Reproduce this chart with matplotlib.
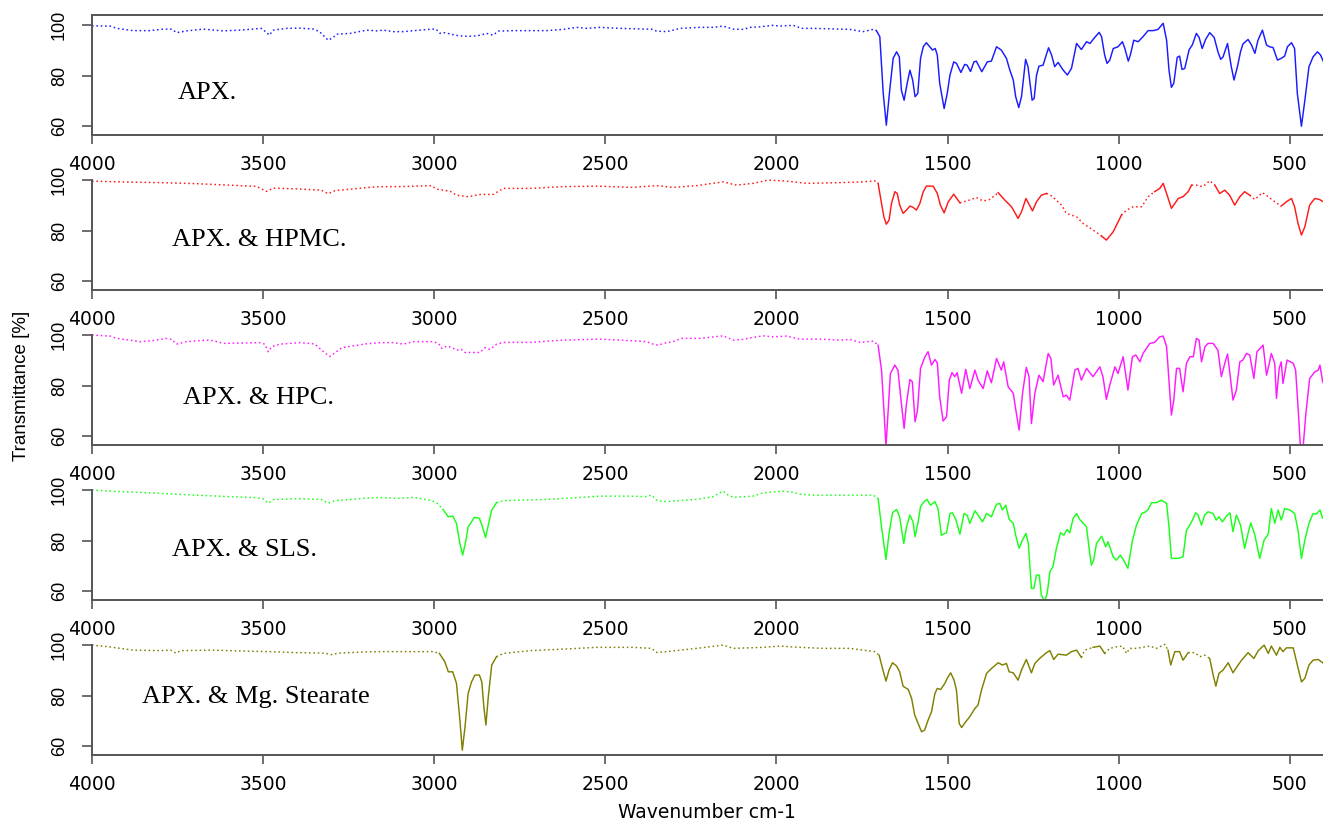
import numpy as np
import matplotlib
matplotlib.use("Agg")
import matplotlib.pyplot as plt

# ---------------- spectra (wavenumber cm-1, transmittance %) ----------------
apx_wn = [4000, 3947, 3928, 3880, 3831, 3792, 3767, 3753, 3723, 3675, 3617, 3568, 3505, 3493, 3482,
          3470, 3431, 3392, 3353, 3335, 3310, 3295, 3285, 3246, 3197, 3168, 3149, 3120, 3090, 3042,
          3008, 2995, 2983, 2969, 2939, 2915, 2886, 2866, 2847, 2828, 2813, 2769, 2672, 2623, 2584,
          2555, 2516, 2458, 2380, 2365, 2350, 2321, 2302, 2282, 2224, 2185, 2156, 2126, 2097, 2078,
          2049, 2010, 1990, 1951, 1927, 1893,
          1786, 1747, 1717, 1708, 1698, 1688, 1679, 1669, 1659, 1649, 1641, 1635, 1627, 1618, 1610,
          1602, 1595, 1587, 1579, 1571, 1562, 1552, 1544, 1536, 1530, 1523, 1510, 1501, 1493, 1482,
          1474, 1461, 1450, 1443, 1433, 1423, 1416, 1400, 1384, 1372, 1357, 1343, 1328, 1318, 1308,
          1301, 1292, 1284, 1272, 1265, 1253, 1247, 1240, 1233, 1221, 1205, 1196, 1187, 1177, 1162,
          1150, 1138, 1123, 1109, 1094, 1084, 1070, 1057, 1050, 1041, 1034, 1026, 1016, 1002, 989,
          982, 972, 966, 956, 943, 929, 914, 899, 885, 870, 860, 853, 846, 839, 829,
          822, 815, 807, 794, 785, 773, 765, 756, 746, 734, 721, 710, 702, 695, 682,
          671, 663, 653, 644, 637, 622, 612, 602, 593, 580, 568, 559, 549, 536, 525,
          515, 507, 495, 486, 478, 466, 456, 444, 432, 419, 410, 400]
apx_t = [99.7, 99.6, 98.7, 97.8, 97.8, 98.4, 98.4, 97.0, 97.7, 98.4, 97.7, 98.0, 98.7, 97.4, 96.0,
         98.0, 98.7, 98.8, 98.4, 97.4, 94.0, 95.1, 96.4, 96.7, 98.0, 97.7, 98.0, 97.4, 97.4, 98.0,
         98.4, 98.4, 96.7, 97.0, 96.0, 95.6, 95.6, 96.0, 96.7, 96.0, 97.6, 97.8, 97.8, 98.3, 99.1,
         98.7, 99.1, 98.7, 98.4, 98.4, 97.6, 97.4, 98.0, 98.7, 99.1, 99.1, 99.6, 98.4, 98.3, 99.1,
         99.3, 99.9, 99.6, 99.9, 98.7, 98.7,
         98.3, 97.4, 98.3, 97.8, 95.4, 72.9, 60.3, 74.2, 86.8, 89.4, 87.4, 74.2, 70.2, 76.9, 82.1,
         78.2, 71.6, 72.9, 86.8, 91.4, 93.0, 91.4, 90.1, 90.7, 88.1, 76.9, 66.9, 72.9, 80.2, 85.4,
         84.8, 81.2, 84.4, 84.1, 81.6, 85.4, 85.7, 81.5, 85.4, 85.7, 91.4, 90.1, 86.8, 82.1, 78.2,
         71.6, 67.3, 71.6, 86.4, 83.5, 70.2, 70.9, 80.2, 83.7, 84.1, 91.0, 88.1, 83.5, 85.2, 82.1,
         80.2, 82.8, 92.7, 90.3, 93.4, 92.7, 95.1, 97.1, 95.4, 88.1, 84.8, 86.1, 90.7, 91.4, 93.4,
         90.7, 85.7, 88.1, 94.0, 93.4, 95.4, 97.8, 97.8, 98.3, 100.7, 94.0, 82.1, 75.3, 76.9, 87.2,
         87.7, 82.4, 82.8, 90.3, 92.1, 96.7, 95.1, 90.7, 94.3, 97.0, 95.1, 89.4, 86.4, 87.4, 92.7,
         83.5, 78.2, 83.5, 89.4, 92.5, 94.3, 92.1, 88.8, 94.0, 98.0, 92.1, 91.4, 91.1, 86.1, 86.8,
         87.7, 91.4, 93.0, 90.7, 72.9, 59.9, 70.2, 83.5, 87.4, 89.4, 88.1, 85.0]

hpmc_wn = [4000, 3900, 3800, 3700, 3600, 3520, 3490, 3470, 3400, 3330, 3310, 3290, 3200, 3159, 3100,
           3008, 2993, 2954, 2935, 2901, 2866, 2828, 2798, 2720, 2623, 2526, 2419, 2350, 2302, 2233,
           2156, 2117, 2068, 2024, 1971, 1912, 1844,
           1786, 1747, 1713, 1703, 1693, 1686, 1679, 1671, 1664, 1654, 1647, 1640, 1630, 1620, 1610,
           1601, 1591, 1581, 1571, 1562, 1542, 1530, 1521, 1510, 1498, 1482, 1464, 1435, 1416, 1396,
           1377, 1352, 1333, 1313, 1294, 1284, 1271, 1252, 1240, 1226, 1211, 1196, 1167, 1153, 1123,
           1104, 1075, 1050, 1036, 1016, 992, 977, 958, 933, 914, 895, 880, 870, 860, 846,
           836, 826, 812, 797, 787, 773, 754, 734, 719, 705, 690, 676, 661, 646, 632,
           617, 602, 580, 563, 544, 525, 510, 495, 486, 476, 466, 456, 442, 427, 413, 400]
hpmc_t = [99.6, 99.2, 99.0, 98.6, 98.0, 97.5, 95.5, 96.8, 96.5, 96.0, 94.6, 95.8, 97.0, 97.4, 97.4,
          97.8, 96.4, 95.6, 94.0, 93.4, 94.3, 94.3, 96.7, 96.7, 97.4, 97.6, 97.1, 97.8, 97.1, 97.8,
          99.3, 98.0, 98.7, 100.0, 99.6, 98.7, 98.9,
          99.1, 99.3, 99.7, 98.7, 90.7, 85.4, 82.5, 84.1, 90.7, 95.4, 94.7, 90.1, 86.8, 88.1, 89.7,
          89.2, 88.1, 90.7, 95.4, 97.6, 97.6, 94.7, 90.1, 87.0, 91.4, 94.4, 91.0, 92.1, 93.1, 91.7,
          92.3, 95.0, 92.1, 89.4, 84.8, 87.4, 92.7, 87.8, 91.4, 94.0, 94.7, 93.7, 90.1, 86.8, 85.4,
          82.8, 80.2, 77.8, 76.2, 79.5, 86.1, 88.1, 89.4, 89.4, 93.4, 95.4, 96.7, 98.7, 94.7, 88.8,
          90.7, 92.7, 93.4, 95.4, 98.0, 98.0, 97.4, 99.7, 98.0, 94.7, 96.0, 94.0, 90.1, 93.4, 95.4,
          94.0, 92.3, 95.0, 93.4, 91.4, 89.7, 91.4, 92.7, 89.4, 82.8, 78.2, 81.5, 90.1, 92.7, 92.3, 91.2]

hpc_wn = [4000, 3947, 3928, 3860, 3821, 3782, 3767, 3753, 3723, 3665, 3646, 3617, 3510, 3495, 3485,
          3475, 3451, 3392, 3350, 3320, 3305, 3290, 3270, 3200, 3159, 3120, 3090, 3061, 3003, 2988,
          2978, 2964, 2949, 2935, 2920, 2910, 2886, 2866, 2852, 2837, 2818, 2798, 2720, 2623, 2516,
          2428, 2380, 2360, 2346, 2321, 2302, 2277, 2224, 2156, 2126, 2097, 2068, 2039, 2010, 1971,
          1932, 1873, 1815,
          1786, 1756, 1717, 1703, 1693, 1686, 1680, 1674, 1667, 1654, 1645, 1635, 1627, 1620, 1610,
          1603, 1595, 1588, 1579, 1566, 1557, 1547, 1537, 1530, 1523, 1513, 1503, 1495, 1487, 1479,
          1472, 1459, 1447, 1435, 1420, 1411, 1396, 1384, 1372, 1357, 1343, 1336, 1323, 1308, 1299,
          1291, 1281, 1270, 1262, 1255, 1245, 1233, 1221, 1206, 1198, 1190, 1177, 1162, 1153, 1143,
          1128, 1119, 1109, 1094, 1075, 1055, 1046, 1036, 1026, 1011, 1002, 987, 973, 960, 950,
          938, 929, 909, 895, 880, 870, 860, 846, 839, 831, 822, 812, 802, 792, 782,
          773, 765, 758, 748, 739, 724, 710, 700, 690, 682, 675, 666, 656, 646, 637,
          627, 617, 605, 596, 578, 568, 561, 554, 544, 539, 531, 525, 520, 508, 490,
          483, 476, 469, 461, 453, 442, 427, 417, 412, 404, 400]
hpc_t = [100.0, 99.6, 98.7, 97.4, 97.8, 98.7, 98.3, 96.4, 97.4, 98.0, 97.8, 96.7, 97.0, 96.4, 93.4,
         95.4, 96.4, 97.0, 96.5, 93.0, 91.5, 93.0, 95.0, 96.5, 97.0, 97.0, 96.4, 97.4, 97.4, 96.7,
         94.7, 95.6, 95.1, 94.0, 94.3, 93.1, 93.1, 93.1, 95.0, 94.3, 96.4, 97.1, 97.1, 98.0, 98.4,
         97.8, 97.4, 96.4, 96.0, 97.0, 97.4, 98.7, 98.7, 99.7, 98.0, 98.3, 99.1, 99.7, 99.3, 99.6,
         98.4, 98.4, 98.0,
         98.3, 97.1, 97.6, 96.0, 86.1, 70.2, 55.8, 68.9, 84.8, 88.1, 86.1, 72.9, 63.0, 72.9, 82.4,
         81.5, 65.6, 70.2, 86.8, 91.4, 93.4, 88.1, 90.3, 89.0, 75.5, 65.9, 67.6, 82.1, 85.1, 83.5,
         85.1, 76.9, 86.4, 78.8, 86.1, 82.1, 78.8, 85.8, 81.1, 90.7, 86.1, 89.4, 79.5, 76.9, 68.9,
         62.3, 76.9, 87.2, 83.5, 64.9, 76.9, 84.1, 81.5, 92.7, 90.7, 80.2, 84.1, 75.5, 76.2, 74.2,
         86.1, 86.8, 82.1, 86.8, 83.5, 87.4, 83.5, 74.5, 80.2, 87.4, 84.8, 91.4, 78.2, 91.4, 92.1,
         89.4, 92.7, 96.7, 97.1, 99.3, 99.6, 95.4, 68.3, 74.2, 86.8, 86.8, 77.5, 88.8, 91.4, 91.4,
         98.7, 98.0, 89.4, 95.4, 96.7, 96.7, 94.0, 83.5, 88.8, 92.5, 84.8, 74.2, 78.2, 89.4, 90.1,
         92.7, 92.1, 82.8, 93.4, 96.0, 84.1, 88.1, 92.7, 88.8, 74.9, 86.8, 89.4, 80.8, 90.1, 88.8,
         86.1, 71.6, 55.8, 55.8, 68.9, 82.8, 85.4, 86.1, 88.1, 81.5, 80.5]

sls_wn = [4000, 3900, 3800, 3700, 3600, 3520, 3500, 3485, 3470, 3400, 3330, 3310, 3290, 3200, 3159,
          3110, 3061, 3012, 2993, 2974, 2959, 2946, 2935, 2925, 2917, 2907, 2901, 2891, 2883, 2868,
          2859, 2850, 2842, 2832, 2818, 2798, 2672, 2574, 2516, 2428, 2380, 2365, 2350, 2331, 2233,
          2185, 2165, 2156, 2141, 2126, 2068, 2039, 1980, 1951, 1932, 1893,
          1786, 1717, 1703, 1693, 1680, 1671, 1661, 1649, 1640, 1628, 1620, 1610, 1601, 1595, 1586,
          1579, 1569, 1560, 1550, 1537, 1528, 1518, 1503, 1493, 1486, 1476, 1464, 1452, 1443, 1435,
          1420, 1411, 1398, 1386, 1372, 1357, 1347, 1340, 1330, 1320, 1308, 1301, 1291, 1281, 1271,
          1264, 1255, 1248, 1240, 1232, 1226, 1216, 1209, 1201, 1192, 1182, 1170, 1160, 1151, 1143,
          1133, 1123, 1114, 1094, 1087, 1080, 1073, 1065, 1050, 1038, 1031, 1016, 1007, 995, 987,
          973, 960, 948, 933, 921, 914, 904, 890, 875, 860, 853, 846, 826, 812, 802,
          792, 782, 775, 768, 758, 749, 739, 724, 715, 707, 697, 685, 675, 666, 656,
          644, 632, 622, 614, 602, 588, 575, 563, 554, 544, 534, 525, 515, 500, 486,
          476, 466, 456, 444, 432, 422, 412, 404, 400]
sls_t = [100.0, 99.3, 98.7, 98.0, 97.4, 97.0, 96.5, 94.8, 96.2, 96.6, 96.3, 94.8, 95.8, 96.8, 97.1,
         96.7, 97.1, 96.0, 95.0, 92.3, 89.4, 89.7, 86.8, 78.8, 74.2, 80.2, 85.4, 87.4, 89.2, 88.8,
         85.4, 81.2, 86.1, 92.1, 95.0, 95.8, 96.3, 97.1, 97.6, 97.6, 97.4, 98.0, 96.0, 95.4, 96.3,
         97.4, 98.9, 99.6, 98.0, 97.1, 97.6, 98.9, 99.6, 99.1, 98.4, 98.0,
         98.0, 98.0, 96.7, 85.4, 72.5, 82.8, 91.0, 92.3, 89.4, 78.8, 85.4, 90.1, 87.4, 81.5, 87.4,
         93.4, 95.4, 96.3, 94.0, 95.4, 92.7, 82.1, 83.1, 90.7, 91.0, 88.4, 82.5, 90.7, 90.1, 86.8,
         91.8, 90.1, 87.4, 90.7, 89.4, 94.4, 94.7, 92.1, 94.0, 88.4, 86.8, 82.1, 76.9, 80.2, 82.8,
         78.8, 61.0, 61.0, 66.3, 66.3, 58.3, 56.0, 59.0, 67.6, 69.6, 76.9, 83.1, 82.1, 84.4, 83.1,
         88.8, 90.7, 88.4, 85.4, 77.5, 70.2, 72.2, 78.8, 81.7, 77.5, 79.5, 73.5, 72.2, 74.2, 72.5,
         69.0, 79.9, 86.1, 90.7, 91.4, 92.3, 95.0, 95.0, 96.0, 94.7, 85.4, 72.9, 72.9, 73.5, 84.1,
         86.1, 88.8, 91.0, 90.1, 86.1, 90.1, 91.4, 90.7, 88.1, 89.4, 87.4, 89.7, 91.0, 83.5, 90.1,
         86.1, 76.9, 82.8, 87.0, 82.1, 72.9, 80.2, 82.5, 92.7, 86.8, 92.1, 88.1, 92.7, 92.1, 90.7,
         84.1, 72.9, 80.2, 86.8, 90.7, 90.5, 92.1, 88.8, 89.5]

mgst_wn = [4000, 3950, 3880, 3800, 3770, 3755, 3740, 3650, 3550, 3480, 3400, 3320, 3300, 3280, 3200,
           3159, 3061, 3003, 2985, 2969, 2959, 2946, 2935, 2925, 2918, 2910, 2901, 2891, 2881, 2868,
           2861, 2855, 2849, 2842, 2832, 2818, 2798, 2720, 2623, 2526, 2419, 2365, 2350, 2321, 2233,
           2156, 2126, 2039, 1990, 1932, 1863,
           1786, 1747, 1713, 1700, 1690, 1680, 1671, 1661, 1649, 1640, 1630, 1615, 1605, 1596, 1586,
           1576, 1567, 1557, 1547, 1537, 1530, 1520, 1508, 1501, 1491, 1481, 1474, 1466, 1459, 1447,
           1435, 1420, 1411, 1401, 1386, 1372, 1352, 1340, 1328, 1320, 1308, 1294, 1284, 1270, 1255,
           1245, 1231, 1211, 1201, 1190, 1177, 1153, 1138, 1123, 1109, 1099, 1075, 1055, 1041, 1026,
           1007, 989, 977, 968, 948, 909, 890, 865, 856, 848, 836, 822, 812, 797, 778,
           763, 748, 734, 724, 716, 707, 695, 680, 666, 653, 641, 622, 605, 592, 575,
           563, 554, 539, 529, 520, 510, 490, 479, 466, 456, 444, 432, 417, 404, 400]
mgst_t = [100.0, 99.3, 98.0, 97.8, 98.0, 96.8, 97.8, 98.0, 97.6, 97.4, 97.0, 96.8, 96.2, 96.8, 97.3,
          97.4, 97.4, 97.4, 96.7, 93.4, 89.4, 89.4, 84.8, 70.2, 58.3, 67.6, 80.8, 85.4, 88.1, 88.1,
          85.4, 75.5, 68.3, 79.5, 92.1, 95.4, 96.7, 97.8, 98.4, 99.1, 99.1, 98.7, 97.1, 97.4, 98.7,
          100.0, 98.7, 99.1, 99.6, 99.1, 98.7,
          98.7, 98.0, 97.4, 96.0, 90.7, 85.7, 90.1, 93.0, 91.7, 89.4, 83.7, 82.4, 78.8, 72.2, 68.9,
          65.6, 66.3, 70.2, 73.5, 80.8, 82.8, 82.4, 84.8, 86.8, 89.0, 86.1, 82.1, 68.9, 67.3, 69.6,
          71.6, 74.9, 76.2, 82.1, 88.8, 90.7, 93.0, 92.1, 92.7, 89.4, 89.0, 86.1, 90.1, 94.3, 89.0,
          92.7, 94.7, 97.0, 97.8, 94.3, 96.4, 96.0, 97.4, 98.0, 95.1, 98.0, 99.1, 99.6, 96.7, 98.7,
          99.3, 99.6, 96.7, 98.7, 98.7, 99.6, 98.7, 100.3, 98.0, 92.1, 97.4, 97.4, 94.0, 97.0, 97.0,
          95.4, 96.0, 94.7, 88.1, 83.7, 88.8, 90.1, 93.0, 89.0, 91.7, 94.0, 97.0, 94.7, 97.8, 100.0,
          96.7, 99.6, 96.0, 99.1, 97.4, 98.9, 98.9, 92.7, 85.4, 86.8, 92.1, 94.0, 94.3, 93.0, 92.5]

names = ["APX.", "APX. & HPMC.", "APX. & HPC.", "APX. & SLS.", "APX. & Mg. Stearate"]
colors = ["#1a1aff", "#ff1a1a", "#ff1aff", "#1aff1a", "#808000"]
series = [(apx_wn, apx_t), (hpmc_wn, hpmc_t), (hpc_wn, hpc_t), (sls_wn, sls_t), (mgst_wn, mgst_t)]
x_ticks = [4000, 3500, 3000, 2500, 2000, 1500, 1000, 500]
y_ticks = [60, 80, 100]

# flat stretches are drawn dotted, band regions solid
dotted_spans = [
    [(4000, 1705)],
    [(4000, 1705), (1470, 1360), (1205, 1045), (995, 900), (790, 725), (612, 520)],
    [(4000, 1705)],
    [(4000, 2980), (2815, 1705)],
    [(4000, 2980), (2815, 1705), (1115, 1080), (1035, 860), (800, 740)],
]
label_pos = [(3749, 73.2), (3766, 76.2), (3734, 75.0), (3766, 76.2), (3854, 79.4)]

W, H = 1323, 826
fig = plt.figure(figsize=(W / 100, H / 100), dpi=100)
spine_col = "#555555"
left_px, top0_px, panel_h_px, step_px = 92, 15, 120, 155


def draw_spectrum(ax, wn, t, color, spans):
    wn = np.asarray(wn, float)
    t = np.asarray(t, float)
    mid = (wn[:-1] + wn[1:]) / 2
    dotted = np.zeros(mid.size, bool)
    for hi, lo in spans:
        dotted |= (mid <= hi) & (mid >= lo)
    start = 0
    for i in range(1, mid.size + 1):
        if i == mid.size or dotted[i] != dotted[start]:
            seg = slice(start, i + 1)
            ls = (0, (1.1, 1.9)) if dotted[start] else "-"
            ax.plot(wn[seg], t[seg], color=color, lw=1.05, ls=ls)
            start = i


for k, ((wn, t), name, col) in enumerate(zip(series, names, colors)):
    top_px = top0_px + k * step_px
    ax = fig.add_axes([left_px / W, 1 - (top_px + panel_h_px) / H,
                       (W - left_px) / W, panel_h_px / H])
    draw_spectrum(ax, wn, t, col, dotted_spans[k])
    ax.set_xlim(4000, 403)
    ax.set_ylim(56.4, 104.0)
    ax.set_xticks(x_ticks)
    ax.set_yticks(y_ticks)
    ax.set_xticklabels([str(v) for v in x_ticks], fontfamily="DejaVu Sans", fontsize=13.5)
    ax.set_yticklabels([str(v) for v in y_ticks], fontfamily="Liberation Sans", fontsize=13,
                       rotation=90, va="center")
    ax.tick_params(axis="x", length=6.5, width=1.2, color=spine_col, pad=8)
    ax.tick_params(axis="y", length=7.2, width=1.2, color=spine_col, pad=10)
    ax.spines["right"].set_visible(False)
    ax.spines["top"].set_visible(k == 0)
    for s in ("left", "bottom", "top"):
        ax.spines[s].set_color(spine_col)
        ax.spines[s].set_linewidth(1.4)
    if k > 0:
        ax.spines["left"].set_bounds(56.4, 100)
    ax.patch.set_alpha(0)
    ax.text(label_pos[k][0], label_pos[k][1], name, fontfamily="Liberation Serif",
            fontsize=19, ha="left", va="center")

fig.text(22 / W, 1 - 386 / H, "Transmittance [%]", rotation=90, ha="center", va="center",
         fontfamily="Liberation Sans", fontsize=13.5)
fig.text(707 / W, 1 - 813 / H, "Wavenumber cm-1", ha="center", va="center",
         fontfamily="DejaVu Sans", fontsize=13.5)

fig.savefig("out.png", dpi=100)
